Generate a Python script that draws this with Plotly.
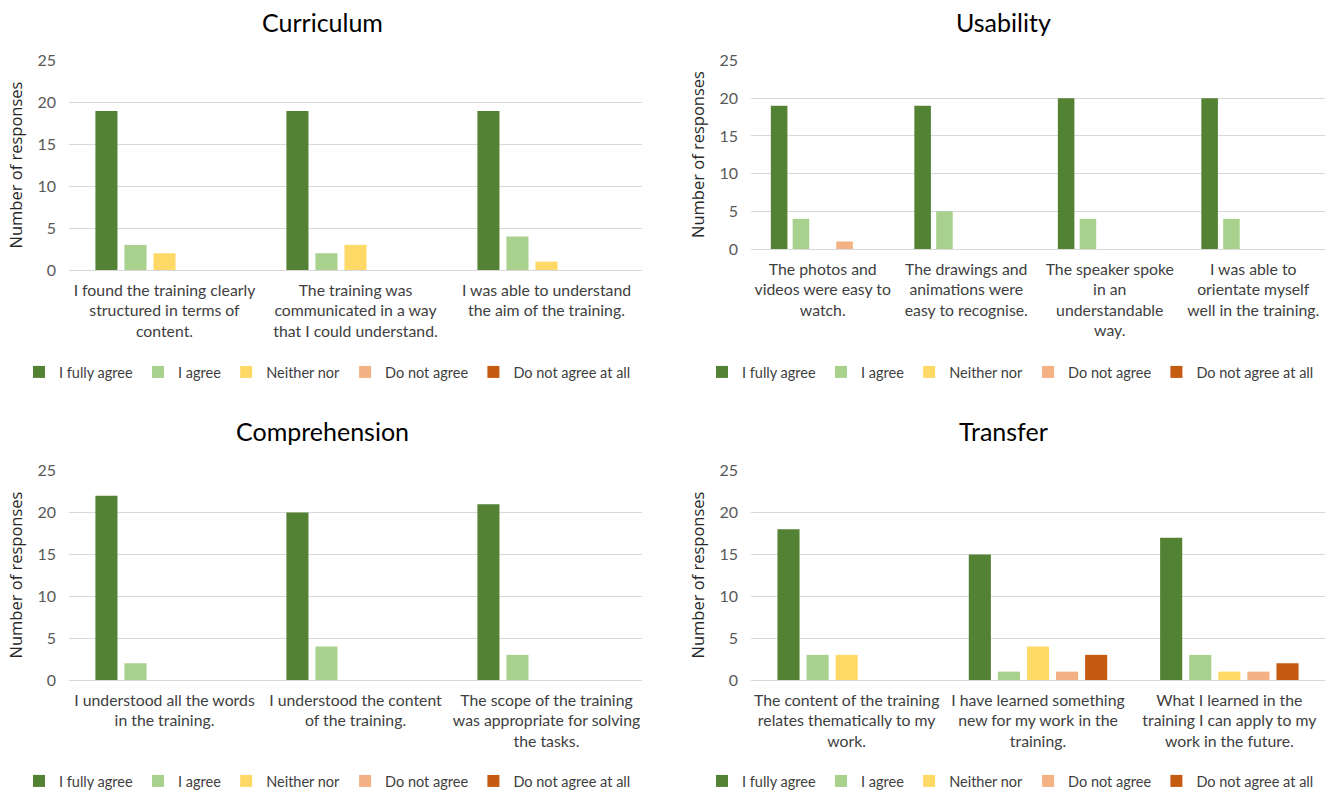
import plotly.graph_objects as go

# Response categories and their colours
responses = ["I fully agree", "I agree", "Neither nor", "Do not agree", "Do not agree at all"]
colors = ["#548235", "#A9D18E", "#FFD966", "#F4B183", "#C55A11"]

# Curriculum
curriculum_items = [
    "I found the training clearly<br>structured in terms of<br>content.",
    "The training was<br>communicated in a way<br>that I could understand.",
    "I was able to understand<br>the aim of the training.",
]
curriculum_fully = [19, 19, 19]
curriculum_agree = [3, 2, 4]
curriculum_neither = [2, 3, 1]
curriculum_disagree = [0, 0, 0]
curriculum_disagree_all = [0, 0, 0]

# Usability
usability_items = [
    "The photos and<br>videos were easy to<br>watch.",
    "The drawings and<br>animations were<br>easy to recognise.",
    "The speaker spoke<br>in an<br>understandable<br>way.",
    "I was able to<br>orientate myself<br>well in the training.",
]
usability_fully = [19, 19, 20, 20]
usability_agree = [4, 5, 4, 4]
usability_neither = [0, 0, 0, 0]
usability_disagree = [1, 0, 0, 0]
usability_disagree_all = [0, 0, 0, 0]

# Comprehension
comprehension_items = [
    "I understood all the words<br>in the training.",
    "I understood the content<br>of the training.",
    "The scope of the training<br>was appropriate for solving<br>the tasks.",
]
comprehension_fully = [22, 20, 21]
comprehension_agree = [2, 4, 3]
comprehension_neither = [0, 0, 0]
comprehension_disagree = [0, 0, 0]
comprehension_disagree_all = [0, 0, 0]

# Transfer
transfer_items = [
    "The content of the training<br>relates thematically to my<br>work.",
    "I have learned something<br>new for my work in the<br>training.",
    "What I learned in the<br>training I can apply to my<br>work in the future.",
]
transfer_fully = [18, 15, 17]
transfer_agree = [3, 1, 3]
transfer_neither = [3, 4, 1]
transfer_disagree = [0, 1, 1]
transfer_disagree_all = [0, 3, 2]

panels = [
    ("Curriculum", curriculum_items,
     [curriculum_fully, curriculum_agree, curriculum_neither, curriculum_disagree, curriculum_disagree_all]),
    ("Usability", usability_items,
     [usability_fully, usability_agree, usability_neither, usability_disagree, usability_disagree_all]),
    ("Comprehension", comprehension_items,
     [comprehension_fully, comprehension_agree, comprehension_neither, comprehension_disagree, comprehension_disagree_all]),
    ("Transfer", transfer_items,
     [transfer_fully, transfer_agree, transfer_neither, transfer_disagree, transfer_disagree_all]),
]

W, H = 1332, 792
FONT = "Lato, sans-serif"
YTITLE_FONT = "Open Sans, Noto Sans, sans-serif"

# plot-area boxes in pixels: (left, right, top, bottom)
boxes = [
    (69, 642, 60, 270),
    (751, 1325, 60, 249),
    (69, 642, 470, 680),
    (751, 1325, 470, 680),
]
title_pos = [(322, 22), (1003, 22), (322, 431), (1003, 431)]
legend_pos = [(19, 372), (702, 372), (19, 781), (702, 781)]

fig = go.Figure()
for i, (name, items, series) in enumerate(panels):
    n = i + 1
    xa = "x" if n == 1 else f"x{n}"
    ya = "y" if n == 1 else f"y{n}"
    lg = "legend" if n == 1 else f"legend{n}"
    for resp, col, vals in zip(responses, colors, series):
        fig.add_trace(go.Bar(
            x=items, y=vals, name=resp, marker_color=col, marker_line_width=0,
            xaxis=xa, yaxis=ya, legend=lg, offsetgroup=resp,
        ))
    l, r, t, b = boxes[i]
    xkey = "xaxis" if n == 1 else f"xaxis{n}"
    ykey = "yaxis" if n == 1 else f"yaxis{n}"
    fig.update_layout({
        xkey: dict(
            domain=[l / W, r / W], anchor=ya, showgrid=False, showline=False,
            ticks="", ticklabelstandoff=9, automargin=False,
            tickfont=dict(family=FONT, size=15.8, color="#404040"),
            fixedrange=True,
        ),
        ykey: dict(
            domain=[1 - b / H, 1 - t / H], anchor=xa, range=[0, 25.08], dtick=5,
            showgrid=True, gridcolor="#D9D9D9", gridwidth=1.3,
            zeroline=True, zerolinecolor="#D9D9D9", zerolinewidth=1.3,
            showline=False, ticks="", ticklabelstandoff=12, automargin=False,
            tickfont=dict(family=FONT, size=16, color="#595959"),
            title=dict(text="Number of responses", standoff=10,
                       font=dict(family=YTITLE_FONT, size=16.5, color="#262626")),
            fixedrange=True,
        ),
        lg: dict(
            orientation="h", x=legend_pos[i][0] / W, y=1 - legend_pos[i][1] / H,
            xanchor="left", yanchor="middle", itemwidth=30,
            font=dict(family=FONT, size=14.5, color="#404040"),
            bgcolor="rgba(0,0,0,0)", itemclick=False, itemdoubleclick=False,
        ),
    })
    fig.add_annotation(
        text=name, x=title_pos[i][0] / W, y=1 - title_pos[i][1] / H,
        xref="paper", yref="paper", showarrow=False, xanchor="center", yanchor="middle",
        font=dict(family=FONT, size=25, color="#000000"),
    )

fig.update_layout(
    width=W, height=H, margin=dict(l=0, r=0, t=0, b=0, autoexpand=False),
    paper_bgcolor="white", plot_bgcolor="white",
    barmode="group", bargap=0.24, bargroupgap=0.24,
    showlegend=True,
)

fig.write_html("out.html", config={"displayModeBar": False})
